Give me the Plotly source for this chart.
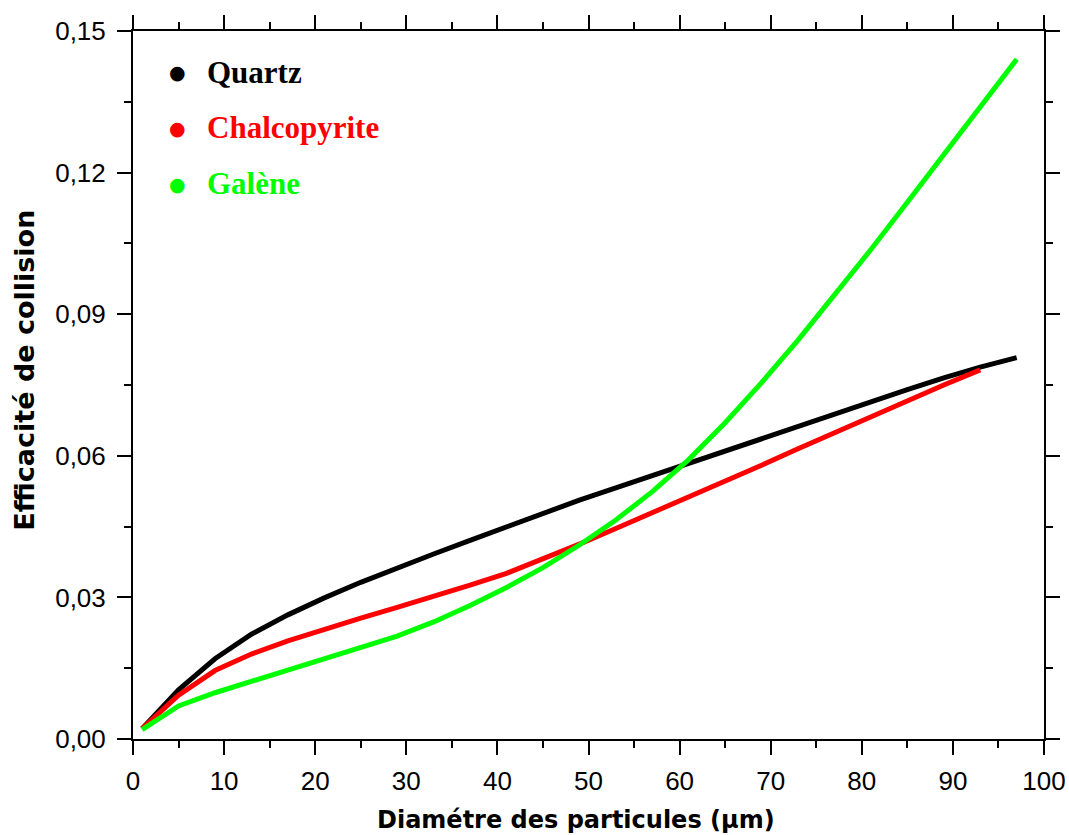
import plotly.graph_objects as go

diam = [1, 5, 9, 13, 17, 21, 25, 29, 33, 37, 41, 45, 49, 53, 57, 61, 65, 69, 73, 77, 81, 85, 89, 93, 97]
quartz = [0.0022, 0.0104, 0.0170, 0.0222, 0.0263, 0.0299, 0.0332, 0.0363, 0.0392, 0.0421, 0.0450, 0.0479,
          0.0506, 0.0532, 0.0558, 0.0586, 0.0612, 0.0638, 0.0664, 0.0690, 0.0715, 0.0740, 0.0765, 0.0788, 0.0808]
diam_chalco = diam[:24]
chalco = [0.0022, 0.0093, 0.0145, 0.0180, 0.0208, 0.0233, 0.0256, 0.0279, 0.0302, 0.0326, 0.0351, 0.0381,
          0.0413, 0.0446, 0.0479, 0.0512, 0.0546, 0.0580, 0.0615, 0.0649, 0.0683, 0.0717, 0.0750, 0.0782]
galene = [0.0020, 0.0070, 0.0098, 0.0122, 0.0145, 0.0168, 0.0192, 0.0218, 0.0248, 0.0283, 0.0321, 0.0363,
          0.0411, 0.0464, 0.0524, 0.0592, 0.0670, 0.0755, 0.0845, 0.0939, 0.1037, 0.1137, 0.1237, 0.1338, 0.1440]

names = ["Quartz", "Chalcopyrite", "Galène"]
colors = ["#000000", "#ff0000", "#00ff00"]
x_title = "Diamétre des particules (µm)"
y_title = "Efficacité de collision"

fig = go.Figure()
fig.add_trace(go.Scatter(x=diam, y=quartz, mode="lines", line=dict(color=colors[0], width=5), name=names[0]))
fig.add_trace(go.Scatter(x=diam_chalco, y=chalco, mode="lines", line=dict(color=colors[1], width=5), name=names[1]))
fig.add_trace(go.Scatter(x=diam, y=galene, mode="lines", line=dict(color=colors[2], width=5), name=names[2]))

# legend as annotations
leg_y = [0.942, 0.863, 0.784]
for n, c, yy in zip(names, colors, leg_y):
    fig.add_annotation(x=0.049, y=yy, xref="paper", yref="paper", text="●", showarrow=False,
                       font=dict(family="DejaVu Sans", size=19, color=c), xanchor="center", yanchor="middle")
    fig.add_annotation(x=0.079, y=yy, xref="paper", yref="paper", text="<b>%s</b>" % n, showarrow=False,
                       font=dict(family="Liberation Serif", size=31, color=c), xanchor="left", yanchor="middle")

# axis titles
fig.add_annotation(x=0.486, y=-0.114, xref="paper", yref="paper", text="<b>%s</b>" % x_title, showarrow=False,
                   font=dict(family="DejaVu Sans", size=24, color="black"), xanchor="center", yanchor="middle")
fig.add_annotation(x=-0.119, y=0.521, xref="paper", yref="paper", text="<b>%s</b>" % y_title, showarrow=False,
                   textangle=-90, font=dict(family="DejaVu Sans", size=27, color="black"),
                   xanchor="center", yanchor="middle")

axis_common = dict(showline=True, linecolor="black", linewidth=2, mirror="ticks", ticks="outside",
                   tickcolor="black", tickwidth=2, showgrid=False, zeroline=False, automargin=False,
                   tickfont=dict(family="Liberation Sans", size=26, color="black"))

fig.update_xaxes(range=[0, 100], tickmode="linear", tick0=0, dtick=10, ticklen=14, ticklabelstandoff=4,
                 minor=dict(ticks="outside", dtick=5, ticklen=7, tickcolor="black", tickwidth=2),
                 **axis_common)
fig.update_yaxes(range=[0, 0.15], tickmode="linear", tick0=0, dtick=0.03, ticklen=14, tickformat=".2f",
                 ticklabelstandoff=6,
                 minor=dict(ticks="outside", dtick=0.015, ticklen=7, tickcolor="black", tickwidth=2),
                 **axis_common)

fig.update_layout(width=1069, height=835, plot_bgcolor="white", paper_bgcolor="white",
                  separators=", ", showlegend=False, hovermode=False,
                  margin=dict(l=133, r=25, t=31, b=96, autoexpand=False))

fig.write_html("out.html", config={"displayModeBar": False, "staticPlot": True},
               post_script="document.body.style.margin='0';document.body.style.overflow='hidden';")
